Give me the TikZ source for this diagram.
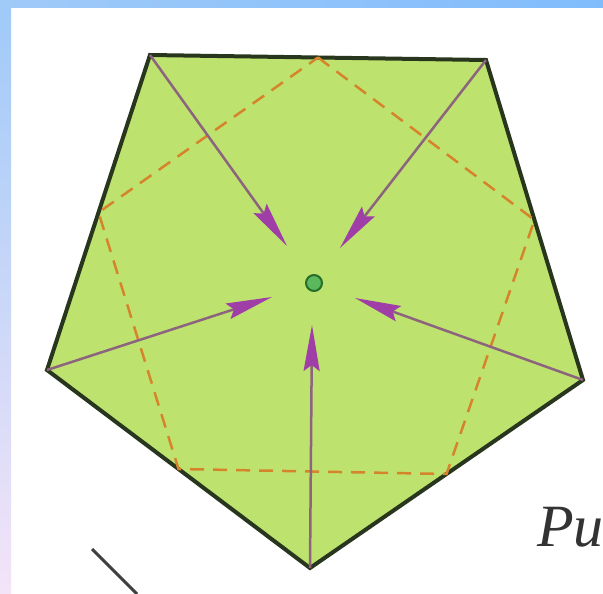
\documentclass[tikz,border=0pt]{standalone}
\usepackage{fontspec}
\newfontfamily\capfont{Liberation Serif}
\usetikzlibrary{arrows.meta,calc}
\definecolor{pentfill}{RGB}{190,226,110}
\definecolor{pentline}{RGB}{40,54,30}
\definecolor{dashcol}{RGB}{214,132,44}
\definecolor{shaftcol}{RGB}{140,100,125}
\definecolor{headcol}{RGB}{160,62,168}
\definecolor{dotfill}{RGB}{92,184,92}
\definecolor{dotline}{RGB}{38,110,40}
\definecolor{bandA}{RGB}{160,202,248}
\definecolor{bandB}{RGB}{128,188,252}
\definecolor{bandC}{RGB}{244,228,248}
\tikzset{
  pent/.style={fill=pentfill,draw=pentline,line width=4pt,line join=miter},
  inner/.style={draw=dashcol,line width=2.5pt,dash pattern=on 14pt off 9pt},
  toward/.style={draw=shaftcol,line width=2.5pt,
    -{Stealth[length=46pt,width=16pt,inset=6pt,color=headcol]}},
  stroke/.style={draw=black!75,line width=3pt},
  caption/.style={font=\capfont\itshape\fontsize{60}{60}\selectfont,text=black!80,inner sep=0pt,anchor=base west}
}
\begin{document}
\begin{tikzpicture}[x=1pt,y=-1pt]
\useasboundingbox (0,0) rectangle (603,594);
\fill[white] (0,0) rectangle (603,594);
% frame bands
\shade[left color=bandA,right color=bandB] (0,0) rectangle (603,8);
\shade[top color=bandA,bottom color=bandC] (0,8) rectangle (11,594);
% vertices
\coordinate (A) at (150,55);
\coordinate (B) at (486,60);
\coordinate (C) at (583,380);
\coordinate (D) at (310,568);
\coordinate (E) at (47,370);
\coordinate (O) at (314,283);
% outer pentagon
\path[pent] (A) -- (B) -- (C) -- (D) -- (E) -- cycle;
% inner dashed pentagon through midpoints
\path[inner] ($(A)!0.5!(B)$) -- ($(B)!0.5!(C)$) -- ($(C)!0.5!(D)$) -- ($(D)!0.5!(E)$) -- ($(E)!0.5!(A)$) -- cycle;
% arrows toward centre
\coordinate (tA) at (287,246);
\coordinate (tB) at (340,248);
\coordinate (tC) at (355,298);
\coordinate (tD) at (312,325);
\coordinate (tE) at (272,297);
\draw[toward] (A) -- (tA);
\draw[toward] (B) -- (tB);
\draw[toward] (C) -- (tC);
\draw[toward] (D) -- (tD);
\draw[toward] (E) -- (tE);
% centre dot
\node[circle,fill=dotfill,draw=dotline,line width=2pt,minimum size=16pt,inner sep=0pt] (dot) at (O) {};
% stray stroke
\coordinate (s1) at (92,549);
\coordinate (s2) at (137,594);
\draw[stroke] (s1) -- (s2);
% caption
\node[caption] (cap) at (537,546) {Ри};
\end{tikzpicture}
\end{document}
